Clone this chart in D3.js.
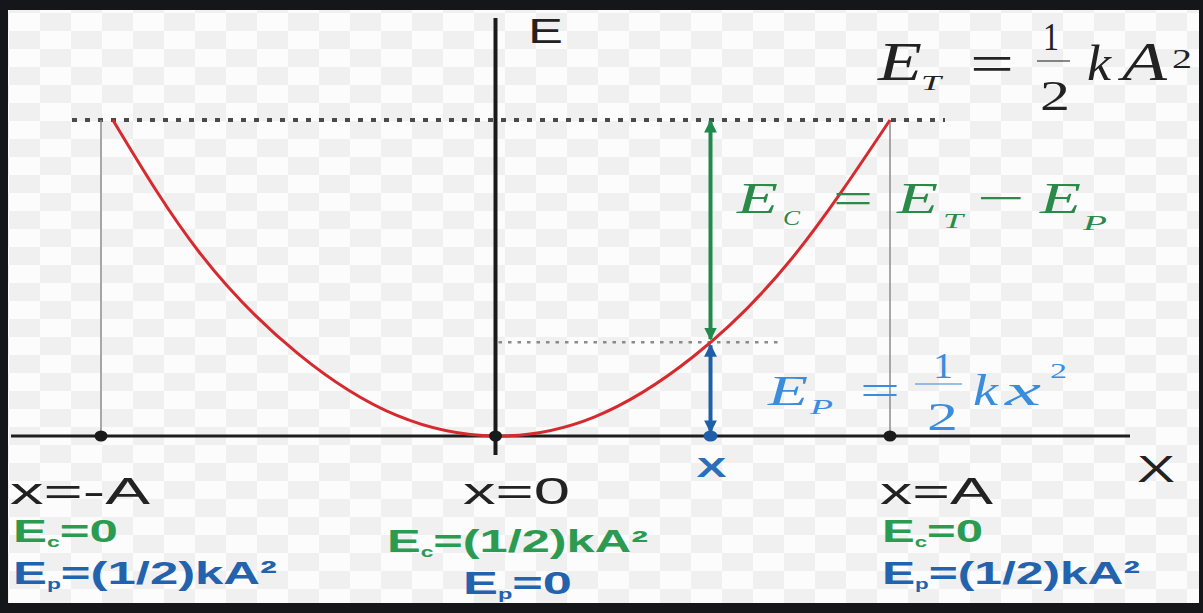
<!DOCTYPE html>
<html>
<head>
<meta charset="utf-8">
<script src="https://cdn.jsdelivr.net/npm/d3@7"></script>
<style>
  html, body { margin: 0; padding: 0; background: #15161a; }
  svg { display: block; }
</style>
</head>
<body>
<svg id="chart" width="1203" height="613"></svg>
<script>
// ---------------- data ----------------
const positions = [-1, 0, 1];                       // x / A
const positionLabels = ["x=-A", "x=0", "x=A"];
const ecLabels = [["E", "c", "=0"], ["E", "c", "=(1/2)kA²"], ["E", "c", "=0"]];
const epLabels = [["E", "p", "=(1/2)kA²"], ["E", "p", "=0"], ["E", "p", "=(1/2)kA²"]];
// parabola (energy in units of ½kA²)
const curveX = [-0.97, -0.75, -0.5, -0.25, 0, 0.25, 0.5, 0.75, 1];
const curveE = [1, 0.58, 0.26, 0.065, 0, 0.06, 0.25, 0.56, 1];
const totalEnergy = 1;
const sampleX = 0.545;
const sampleE = 0.297;
const axisLabels = ["E", "X"];
const sampleLabel = "X";

// ---------------- layout ----------------
const W = 1203, H = 613;
const svg = d3.select("#chart");
const x = d3.scaleLinear().domain([-1, 1]).range([101, 890]);
const y = d3.scaleLinear().domain([0, 1]).range([436, 120]);

const defs = svg.append("defs");
const pat = defs.append("pattern").attr("id", "checker")
  .attr("patternUnits", "userSpaceOnUse").attr("width", 62).attr("height", 36)
  .attr("x", 9).attr("y", 13);
pat.append("rect").attr("width", 62).attr("height", 36).attr("fill", "#fcfcfc");
pat.append("rect").attr("x", 31).attr("y", 0).attr("width", 31).attr("height", 18).attr("fill", "#f0f0f0");
pat.append("rect").attr("x", 0).attr("y", 18).attr("width", 31).attr("height", 18).attr("fill", "#f0f0f0");

function marker(id, color) {
  defs.append("marker").attr("id", id)
    .attr("viewBox", "0 0 10 10").attr("refX", 9).attr("refY", 5)
    .attr("markerWidth", 3.2).attr("markerHeight", 3.2)
    .attr("markerUnits", "strokeWidth")
    .attr("orient", "auto-start-reverse")
    .append("path").attr("d", "M0,0 L10,5 L0,10 Z").attr("fill", color);
}
const green = "#1f8a4c", blue = "#1f5fa8";
marker("ag", green);
marker("ab", blue);

// frame + background
svg.append("rect").attr("width", W).attr("height", H).attr("fill", "#15161a");
svg.append("rect").attr("x", 8).attr("y", 10).attr("width", 1191).attr("height", 593).attr("fill", "url(#checker)");

// reference lines
const g = svg.append("g");
g.append("line")
  .attr("x1", 72).attr("x2", 945).attr("y1", y(totalEnergy)).attr("y2", y(totalEnergy))
  .attr("stroke", "#4a4a4a").attr("stroke-width", 4).attr("stroke-dasharray", "5,8");
g.append("line")
  .attr("x1", x(0) + 3).attr("x2", 780).attr("y1", y(sampleE)).attr("y2", y(sampleE))
  .attr("stroke", "#8a8a8a").attr("stroke-width", 2.5).attr("stroke-dasharray", "3.5,6");
g.selectAll("line.vt").data([-1, 1]).join("line").attr("class", "vt")
  .attr("x1", d => x(d)).attr("x2", d => x(d))
  .attr("y1", y(totalEnergy)).attr("y2", y(0))
  .attr("stroke", "#8c8c8c").attr("stroke-width", 1.5);

// axes
g.append("line").attr("x1", 11).attr("x2", 1130).attr("y1", y(0)).attr("y2", y(0))
  .attr("stroke", "#1e1e1e").attr("stroke-width", 3);
g.append("line").attr("x1", x(0)).attr("x2", x(0)).attr("y1", 18).attr("y2", 455)
  .attr("stroke", "#1a1a1a").attr("stroke-width", 4);

// parabola
const pts = curveX.map((v, i) => [v, curveE[i]]);
g.append("path").datum(pts)
  .attr("d", d3.line().x(d => x(d[0])).y(d => y(d[1])).curve(d3.curveNatural))
  .attr("fill", "none").attr("stroke", "#d62a2e").attr("stroke-width", 3);

// arrows
g.append("line").attr("x1", x(sampleX)).attr("x2", x(sampleX))
  .attr("y1", y(totalEnergy) + 1).attr("y2", y(sampleE) - 3)
  .attr("stroke", green).attr("stroke-width", 4)
  .attr("marker-start", "url(#ag)").attr("marker-end", "url(#ag)");
g.append("line").attr("x1", x(sampleX)).attr("x2", x(sampleX))
  .attr("y1", y(sampleE) + 3).attr("y2", y(0) - 4)
  .attr("stroke", blue).attr("stroke-width", 4)
  .attr("marker-start", "url(#ab)").attr("marker-end", "url(#ab)");

// dots
g.selectAll("ellipse.pt").data(positions).join("ellipse").attr("class", "pt")
  .attr("cx", d => x(d)).attr("cy", y(0)).attr("rx", 6.5).attr("ry", 5.5).attr("fill", "#1a1a1a");
g.append("ellipse").attr("cx", x(sampleX)).attr("cy", y(0)).attr("rx", 7).attr("ry", 5.5).attr("fill", blue);

// ---------------- text ----------------
function txt(s, px, py, size, w, opts = {}) {
  return svg.append("text").attr("x", px).attr("y", py)
    .attr("font-family", opts.serif ? "'Liberation Serif', 'Times New Roman', serif" : "'Liberation Sans', Arial, sans-serif")
    .attr("font-style", opts.italic ? "italic" : "normal")
    .attr("font-weight", opts.bold ? "bold" : "normal")
    .attr("font-size", size).attr("fill", opts.color || "#222")
    .attr("textLength", w).attr("lengthAdjust", "spacingAndGlyphs")
    .text(s);
}
function frac(x1, x2, yy, color) {
  svg.append("line").attr("x1", x1).attr("x2", x2).attr("y1", yy).attr("y2", yy)
    .attr("stroke", color).attr("stroke-width", 1.5).attr("opacity", 0.7);
}
const S = { serif: true, italic: true };

// E_T = 1/2 k A^2
const k = "#222";
txt("E", 878, 80, 54, 44, { ...S, color: k });
txt("T", 921, 90, 22, 20, { ...S, color: k });
txt("=", 970, 82, 54, 44, { serif: true, color: k });
txt("1", 1043, 50, 40, 16, { serif: true, color: k });
frac(1037, 1070, 61, k);
txt("2", 1040, 110, 42, 30, { serif: true, color: k });
txt("k", 1087, 80, 50, 24, { ...S, color: k });
txt("A", 1122, 80, 54, 45, { ...S, color: k });
txt("2", 1172, 68, 28, 20, { serif: true, color: k });

// E_C = E_T - E_P
const gt = "#2b8a4a";
txt("E", 737, 213, 45, 41, { ...S, color: gt });
txt("C", 783, 225, 22, 17, { ...S, color: gt });
txt("=", 833, 213, 45, 40, { serif: true, color: gt });
txt("E", 897, 213, 45, 41, { ...S, color: gt });
txt("T", 943, 228, 22, 20, { ...S, color: gt });
txt("−", 977, 213, 45, 48, { serif: true, color: gt });
txt("E", 1040, 213, 45, 41, { ...S, color: gt });
txt("P", 1083, 230, 22, 24, { ...S, color: gt });

// E_P = 1/2 k x^2
const bt = "#3a8ddc";
txt("E", 768, 405, 42, 40, { ...S, color: bt });
txt("P", 810, 414, 20, 23, { ...S, color: bt });
txt("=", 860, 404, 42, 40, { serif: true, color: bt });
txt("1", 933, 378, 36, 20, { serif: true, color: bt });
frac(915, 962, 384, bt);
txt("2", 927, 430, 40, 31, { serif: true, color: bt });
txt("k", 973, 405, 44, 25, { ...S, color: bt });
txt("x", 1005, 405, 44, 36, { ...S, color: bt });
txt("2", 1050, 378, 22, 17, { serif: true, color: bt });

// axis labels
txt(axisLabels[0], 528, 43, 35, 35, { color: "#222" });
txt(axisLabels[1], 1137, 482, 36, 38, { color: "#222" });
txt(sampleLabel, x(sampleX) - 14, 477, 28, 30, { bold: true, color: "#2a6fb8" });

// bottom labels
const posLayout = [
  { x: 10, w: 140, ecx: 13, ecw: 105, epx: 13, epw: 264 },
  { x: 463, w: 107, ecx: 387, ecw: 261, epx: 463, epw: 109 },
  { x: 880, w: 113, ecx: 882, ecw: 101, epx: 882, epw: 258 }
];
const ecColor = "#2a9b50", epColor = "#2363ad";
positions.forEach((p, i) => {
  const L = posLayout[i];
  txt(positionLabels[i], L.x, 504, 36, L.w, { color: "#222" });
  function sub(parts, px, py, w, color, size) {
    const t = svg.append("text").attr("x", px).attr("y", py)
      .attr("font-family", "'Liberation Sans', Arial, sans-serif").attr("font-weight", "bold")
      .attr("font-size", size).attr("fill", color)
      .attr("textLength", w).attr("lengthAdjust", "spacingAndGlyphs");
    t.append("tspan").text(parts[0]);
    t.append("tspan").attr("font-size", size * 0.45).attr("dy", 5).text(parts[1]);
    t.append("tspan").attr("dy", -5).text(parts[2]);
  }
  sub(ecLabels[i], L.ecx, i === 1 ? 552 : 542, L.ecw, ecColor, 31);
  sub(epLabels[i], L.epx, i === 1 ? 594 : 584, L.epw, epColor, 32);
});
</script>
</body>
</html>
